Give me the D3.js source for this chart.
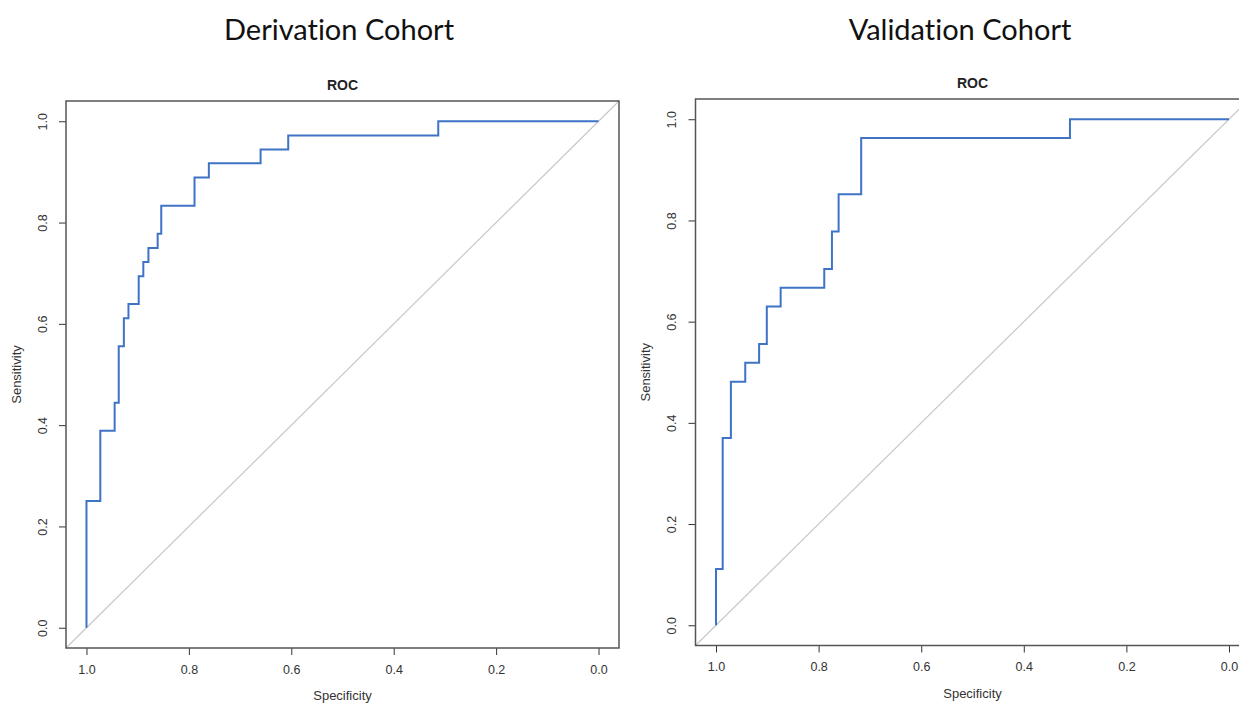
<!DOCTYPE html>
<html>
<head>
<meta charset="utf-8">
<script src="https://cdn.jsdelivr.net/npm/d3@7"></script>
<style>
  body { margin: 0; background: #fff; }
  .cohort { font-family: Lato, "Open Sans", sans-serif; font-size: 29px; fill: #111; font-variant-ligatures: none; }
  .roc-title { font-family: "Liberation Sans", Arial, sans-serif; font-size: 14px; font-weight: bold; fill: #222; }
  .axis text { font-family: "Liberation Sans", Arial, sans-serif; font-size: 12.5px; fill: #333; }
  .axis-label { font-family: "Liberation Sans", Arial, sans-serif; font-size: 13px; fill: #333; }
</style>
</head>
<body>
<svg id="chart"></svg>
<script>
// Derivation cohort ROC (step corners, specificity / sensitivity)
const derivSpec = [1, 1, 0.973, 0.945, 0.937, 0.927, 0.918, 0.898, 0.889, 0.879, 0.861, 0.854, 0.789, 0.761, 0.66, 0.606, 0.313, 0];
const derivSens = [0, 0.25, 0.389, 0.444, 0.556, 0.611, 0.639, 0.694, 0.722, 0.75, 0.778, 0.833, 0.889, 0.917, 0.944, 0.972, 1, 1];

// Validation cohort ROC
const validSpec = [1, 1, 0.987, 0.971, 0.943, 0.916, 0.901, 0.874, 0.789, 0.774, 0.761, 0.717, 0.31, 0];
const validSens = [0, 0.111, 0.37, 0.481, 0.519, 0.556, 0.63, 0.667, 0.704, 0.778, 0.852, 0.963, 1, 1];

const ticks = [1.0, 0.8, 0.6, 0.4, 0.2, 0.0];
const cohortTitles = ["Derivation Cohort", "Validation Cohort"];

const svg = d3.select("#chart")
  .attr("width", 1239)
  .attr("height", 704);

function drawPanel(cfg) {
  const x = d3.scaleLinear().domain([1.04, -0.04]).range([cfg.left, cfg.right]);
  const y = d3.scaleLinear().domain([-0.04, 1.04]).range([cfg.bottom, cfg.top]);
  const g = svg.append("g");

  // cohort heading
  g.append("text")
    .attr("class", "cohort")
    .attr("x", cfg.titleX)
    .attr("y", 40)
    .attr("text-anchor", "middle")
    .text(cfg.title);

  g.append("text")
    .attr("class", "roc-title")
    .attr("x", (cfg.left + cfg.right) / 2)
    .attr("y", cfg.top - 11)
    .attr("text-anchor", "middle")
    .text("ROC");

  // chance line
  g.append("line")
    .attr("x1", x(1.04)).attr("y1", y(-0.04))
    .attr("x2", x(-0.04)).attr("y2", y(1.04))
    .attr("stroke", "#c8c8c8")
    .attr("stroke-width", 1.2);

  // ROC curve
  const pts = cfg.spec.map((s, i) => [s, cfg.sens[i]]);
  const line = d3.line()
    .x(d => x(d[0]))
    .y(d => y(d[1]))
    .curve(d3.curveStepAfter);
  g.append("path")
    .datum(pts)
    .attr("d", line)
    .attr("fill", "none")
    .attr("stroke", "#3f73c6")
    .attr("stroke-width", 2);

  // axes
  const xAxis = g.append("g")
    .attr("class", "axis")
    .attr("transform", `translate(0,${cfg.bottom})`)
    .call(d3.axisBottom(x).tickValues(ticks).tickFormat(d3.format(".1f")).tickSize(7).tickPadding(10));
  xAxis.select(".domain").remove();
  xAxis.selectAll(".tick line").attr("stroke", "#333");

  const yAxis = g.append("g")
    .attr("class", "axis")
    .attr("transform", `translate(${cfg.left},0)`)
    .call(d3.axisLeft(y).tickValues(ticks).tickFormat(d3.format(".1f")).tickSize(7));
  yAxis.select(".domain").remove();
  yAxis.selectAll(".tick line").attr("stroke", "#333");
  yAxis.selectAll(".tick text")
    .attr("text-anchor", "middle")
    .attr("x", 0)
    .attr("dy", 0)
    .attr("transform", `translate(${cfg.yTickX - cfg.left},0) rotate(-90)`);

  // box
  g.append("rect")
    .attr("x", cfg.left)
    .attr("y", cfg.top)
    .attr("width", cfg.right - cfg.left)
    .attr("height", cfg.bottom - cfg.top)
    .attr("fill", "none")
    .attr("stroke", "#555")
    .attr("stroke-width", 1.5);

  g.append("text")
    .attr("class", "axis-label")
    .attr("x", (cfg.left + cfg.right) / 2)
    .attr("y", cfg.bottom + 52)
    .attr("text-anchor", "middle")
    .text("Specificity");

  g.append("text")
    .attr("class", "axis-label")
    .attr("transform", `translate(${cfg.yLabelX},${(cfg.top + cfg.bottom) / 2}) rotate(-90)`)
    .attr("text-anchor", "middle")
    .text("Sensitivity");
}

drawPanel({
  title: cohortTitles[0], titleX: 339,
  left: 66, right: 619, top: 101, bottom: 648,
  yTickX: 47, yLabelX: 21,
  spec: derivSpec, sens: derivSens
});

drawPanel({
  title: cohortTitles[1], titleX: 960,
  left: 695.5, right: 1249.5, top: 99, bottom: 645.5,
  yTickX: 676, yLabelX: 650,
  spec: validSpec, sens: validSens
});
</script>
</body>
</html>
